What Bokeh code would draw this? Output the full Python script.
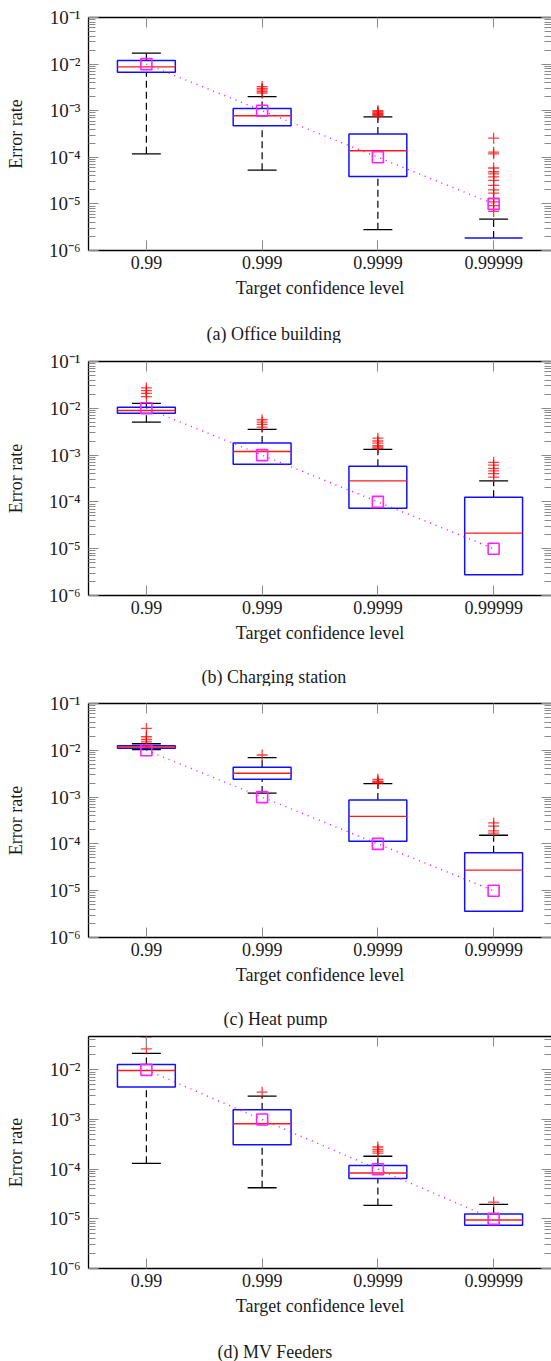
import math
from bokeh.plotting import figure
from bokeh.models import (Range1d, ColumnDataSource, LogAxis, LinearAxis, FixedTicker,
                          CustomJSTickFormatter, Title)
from bokeh.layouts import column
from bokeh.embed import file_html
from bokeh.resources import INLINE

NaN = float("nan")

categories = ["0.99", "0.999", "0.9999", "0.99999"]
targets = [1e-2, 1e-3, 1e-4, 1e-5]
captions = ["(a) Office building", "(b) Charging station", "(c) Heat pump", "(d) MV Feeders"]
y_label = "Error rate"
x_label = "Target confidence level"

# (a) Office building
office_q1 = [6.7e-3, 4.75e-4, 3.86e-5, 1.86e-6]
office_median = [8.7e-3, 7.8e-4, 1.38e-4, NaN]
office_q3 = [1.2e-2, 1.11e-3, 3.16e-4, 1.86e-6]
office_lower = [1.19e-4, 5.3e-5, 2.8e-6, NaN]
office_upper = [1.72e-2, 2.0e-3, 7.4e-4, 4.7e-6]
office_outliers = [
    [],
    [2.4e-3, 2.6e-3, 2.8e-3, 3.0e-3, 3.3e-3],
    [7.8e-4, 8.2e-4, 8.6e-4, 9.0e-4, 9.5e-4, 1.0e-3],
    [2.57e-4, 1.29e-4, 1.19e-4, 5.9e-5, 4.9e-5, 4.4e-5, 3.8e-5, 3.2e-5, 2.5e-5,
     2.0e-5, 1.7e-5, 1.3e-5, 1.1e-5, 9.2e-6, 6.9e-6],
]

# (b) Charging station
charging_q1 = [7.86e-3, 6.38e-4, 7.3e-5, 2.79e-6]
charging_median = [8.97e-3, 1.19e-3, 2.82e-4, 2.15e-5]
charging_q3 = [1.054e-2, 1.81e-3, 5.8e-4, 1.25e-4]
charging_lower = [5.06e-3, NaN, NaN, NaN]
charging_upper = [1.28e-2, 3.54e-3, 1.33e-3, 2.82e-4]
charging_outliers = [
    [1.78e-2, 2.09e-2, 2.39e-2, 2.72e-2],
    [3.96e-3, 4.52e-3, 5.06e-3, 5.69e-3],
    [1.4e-3, 1.5e-3, 1.6e-3, 1.8e-3, 2.0e-3, 2.3e-3],
    [3.4e-4, 4.0e-4, 4.6e-4, 5.2e-4, 6.1e-4, 7.0e-4],
]

# (c) Heat pump
heat_q1 = [1.104e-2, 2.42e-3, 1.14e-4, 3.63e-6]
heat_median = [1.175e-2, 3.24e-3, 3.88e-4, 2.75e-5]
heat_q3 = [1.253e-2, 4.35e-3, 8.63e-4, 6.44e-5]
heat_lower = [1.03e-2, 1.22e-3, NaN, NaN]
heat_upper = [1.38e-2, 6.97e-3, 1.95e-3, 1.53e-4]
heat_outliers = [
    [1.52e-2, 1.7e-2, 1.95e-2, 2.94e-2],
    [7.94e-3],
    [2.0e-3, 2.1e-3, 2.2e-3, 2.4e-3],
    [1.7e-4, 1.9e-4, 2.4e-4, 2.8e-4],
]

# (d) MV Feeders
mv_q1 = [4.53e-3, 3.11e-4, 6.48e-5, 7.46e-6]
mv_median = [9.7e-3, 8.24e-4, 8.4e-5, 9.5e-6]
mv_q3 = [1.277e-2, 1.58e-3, 1.19e-4, 1.25e-5]
mv_lower = [1.31e-4, 4.23e-5, 1.86e-5, NaN]
mv_upper = [2.14e-2, 2.96e-3, 1.82e-4, 1.95e-5]
mv_outliers = [
    [2.65e-2, 4.6e-2],
    [3.55e-3],
    [2.1e-4, 2.3e-4, 2.5e-4, 2.8e-4],
    [2.17e-5],
]

y_min = 1e-6
y_max_default = 1e-1
y_max_mv = 4.7e-2

FONT = "Liberation Serif"
TEXT = "#1a1a1a"
TICK = "#8a8a8a"

SUP = {"-": "\u207b", "0": "\u2070", "1": "\u00b9", "2": "\u00b2", "3": "\u00b3",
       "4": "\u2074", "5": "\u2075", "6": "\u2076", "7": "\u2077", "8": "\u2078", "9": "\u2079"}
sup_js = "{" + ",".join('"%s":"%s"' % (k, v) for k, v in SUP.items()) + "}"
log_fmt_code = """
const sup = %s;
const e = Math.round(Math.log10(tick));
return "10" + String(e).split("").map(c => sup[c]).join("");
""" % sup_js

decades = list(range(-6, 0))
major_ticks = [10.0 ** e for e in decades]
minor_ticks = [m * 10.0 ** e for e in decades[:-1] for m in range(2, 10)]

positions = list(range(1, len(categories) + 1))
label_map = {p: c for p, c in zip(positions, categories)}


def make_panel(caption, q1, med, q3, lo, hi, outl, y_max, height, b_top, b_bottom, cap_left, gap):
    p = figure(width=551, height=height, x_range=Range1d(0.5, 4.5), y_range=Range1d(y_min, y_max),
               y_axis_type="log", output_backend="svg", toolbar_location=None,
               min_border_left=88, min_border_right=0, min_border_top=b_top,
               min_border_bottom=b_bottom, outline_line_color=None,
               background_fill_color="white", border_fill_color="white")
    p.xgrid.visible = False
    p.ygrid.visible = False

    yt = FixedTicker(ticks=major_ticks, minor_ticks=minor_ticks)
    xt = FixedTicker(ticks=positions, minor_ticks=[])

    # left axis
    ya = p.yaxis[0]
    ya.ticker = yt
    ya.formatter = CustomJSTickFormatter(code=log_fmt_code)
    ya.axis_label = y_label
    ya.axis_label_text_font = FONT
    ya.axis_label_text_font_size = "18px"
    ya.axis_label_text_font_style = "normal"
    ya.axis_label_text_color = TEXT
    ya.axis_label_standoff = 20
    ya.major_label_text_font = FONT
    ya.major_label_text_font_size = "19px"
    ya.major_label_text_color = TEXT
    ya.major_label_standoff = 8
    ya.major_tick_in = 10
    ya.major_tick_out = 0
    ya.minor_tick_in = 7
    ya.minor_tick_out = 0
    ya.major_tick_line_color = TICK
    ya.minor_tick_line_color = TICK
    ya.axis_line_color = "black"
    ya.axis_line_width = 1.3

    # bottom axis
    xa = p.xaxis[0]
    xa.ticker = xt
    xa.major_label_overrides = label_map
    xa.axis_label = x_label
    xa.axis_label_text_font = FONT
    xa.axis_label_text_font_size = "18px"
    xa.axis_label_text_font_style = "normal"
    xa.axis_label_text_color = TEXT
    xa.axis_label_standoff = 6
    xa.major_label_text_font = FONT
    xa.major_label_text_font_size = "18px"
    xa.major_label_text_color = TEXT
    xa.major_label_standoff = 5
    xa.major_tick_in = 10
    xa.major_tick_out = 0
    xa.minor_tick_line_color = None
    xa.major_tick_line_color = TICK
    xa.axis_line_color = "black"
    xa.axis_line_width = 1.3

    # mirrored axes (top, right), no labels
    blank = CustomJSTickFormatter(code='return "";')
    top = LinearAxis(ticker=xt, formatter=blank, major_label_standoff=0,
                     major_tick_in=10, major_tick_out=0, major_tick_line_color=TICK,
                     minor_tick_line_color=None, axis_line_color="black", axis_line_width=1.3)
    p.add_layout(top, "above")
    right = LogAxis(ticker=yt, formatter=blank, major_label_standoff=0,
                    major_tick_in=10, major_tick_out=0, minor_tick_in=7, minor_tick_out=0,
                    major_tick_line_color=TICK, minor_tick_line_color=TICK, axis_line_color=None)
    p.add_layout(right, "right")

    box = ColumnDataSource(dict(
        x=positions, xl=[v - 0.25 for v in positions], xr=[v + 0.25 for v in positions],
        cl=[v - 0.125 for v in positions], cr=[v + 0.125 for v in positions],
        q1=q1, med=med, q3=q3, lo=lo, hi=hi, target=targets))

    # whiskers
    p.segment("x", "lo", "x", "q1", source=box, line_color="black", line_width=1.2, line_dash="7 4")
    p.segment("x", "q3", "x", "hi", source=box, line_color="black", line_width=1.2, line_dash="7 4")
    p.segment("cl", "lo", "cr", "lo", source=box, line_color="black", line_width=1.3)
    p.segment("cl", "hi", "cr", "hi", source=box, line_color="black", line_width=1.3)
    # boxes
    p.quad(left="xl", right="xr", bottom="q1", top="q3", source=box, fill_color=None,
           line_color="#1010ff", line_width=1.5)
    p.segment("xl", "med", "xr", "med", source=box, line_color="#ff1a1a", line_width=1.4)

    ox, oy = [], []
    for pos, vals in zip(positions, outl):
        for v in vals:
            ox.append(pos)
            oy.append(v)
    p.scatter(ox, oy, marker="cross", size=11, line_color="#ff0000", line_width=1.3, line_alpha=0.75)

    p.line("x", "target", source=box, line_color="#ff00ff", line_width=1.4, line_dash="1 5")
    p.scatter("x", "target", source=box, marker="square", size=11, fill_color=None,
              line_color="#ff22ff", line_width=1.6)

    # spacer, then caption below the axis title
    p.add_layout(Title(text=" ", text_font=FONT, text_font_size="%dpx" % gap, standoff=0), "below")
    p.add_layout(Title(text=caption, text_font=FONT, text_font_size="18px", text_font_style="normal",
                       text_color=TEXT, align="left", offset=cap_left, standoff=0), "below")
    return p


pa = make_panel(captions[0], office_q1, office_median, office_q3, office_lower, office_upper,
                office_outliers, y_max_default, 343, 17, 91, 118, 17)
pb = make_panel(captions[1], charging_q1, charging_median, charging_q3, charging_lower, charging_upper,
                charging_outliers, y_max_default, 343, 18, 90, 113, 16)
pc = make_panel(captions[2], heat_q1, heat_median, heat_q3, heat_lower, heat_upper,
                heat_outliers, y_max_default, 342, 17, 90, 135, 16)
pd_ = make_panel(captions[3], mv_q1, mv_median, mv_q3, mv_lower, mv_upper,
                 mv_outliers, y_max_mv, 333, 8, 90, 129, 17)

layout = column(pa, pb, pc, pd_, spacing=0)
open("out.html", "w").write(file_html(layout, INLINE))
